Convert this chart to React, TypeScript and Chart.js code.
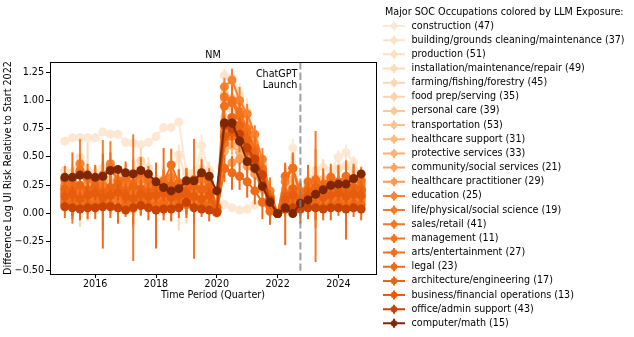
import { useEffect, useRef } from 'react';
import { Chart, registerables } from 'chart.js';

Chart.register(...registerables);

const quarters = [
  2015.0, 2015.25, 2015.5, 2015.75, 2016.0, 2016.25, 2016.5, 2016.75,
  2017.0, 2017.25, 2017.5, 2017.75, 2018.0, 2018.25, 2018.5, 2018.75,
  2019.0, 2019.25, 2019.5, 2019.75, 2020.0, 2020.25, 2020.5, 2020.75,
  2021.0, 2021.25, 2021.5, 2021.75, 2022.0, 2022.25, 2022.5, 2022.75,
  2023.0, 2023.25, 2023.5, 2023.75, 2024.0, 2024.25, 2024.5, 2024.75,
];

const occupations = [
  'construction (47)',
  'building/grounds cleaning/maintenance (37)',
  'production (51)',
  'installation/maintenance/repair (49)',
  'farming/fishing/forestry (45)',
  'food prep/serving (35)',
  'personal care (39)',
  'transportation (53)',
  'healthcare support (31)',
  'protective services (33)',
  'community/social services (21)',
  'healthcare practitioner (29)',
  'education (25)',
  'life/physical/social science (19)',
  'sales/retail (41)',
  'management (11)',
  'arts/entertainment (27)',
  'legal (23)',
  'architecture/engineering (17)',
  'business/financial operations (13)',
  'office/admin support (43)',
  'computer/math (15)',
];

const colors = [
  '#fee8d3', '#fee3c8', '#fde0c2', '#fddcb9', '#fdd8b2', '#fdd3a9',
  '#fdc997', '#fdc28b', '#fdbb80', '#fdb272', '#fda35f', '#fd9a52',
  '#f9812f', '#f77c29', '#f67824', '#f57420', '#f3701b', '#f06b17',
  '#ec6512', '#e65c0c', '#c94302', '#7f2704',
];

// series values (difference in log UI risk), one per quarter
const construction = [0.64, 0.67, 0.67, 0.67, 0.67, 0.72, 0.70, 0.70, 0.63, 0.62, 0.61, 0.63, 0.68, 0.76, 0.76, 0.81, 0.36, 0.30, 0.60, 0.38, 0.10, 0.08, 0.05, 0.03, 0.04, 0.08, 0.10, 0.05, 0.0, 0.15, 0.58, 0.12, 0.30, 0.38, 0.41, 0.38, 0.50, 0.54, 0.45, 0.32];
const building = [0.38, 0.36, 0.50, 0.38, 0.36, 0.40, 0.42, 0.30, 0.35, 0.36, 0.47, 0.40, 0.30, 0.28, 0.35, 0.52, 0.30, 0.36, 0.40, 0.38, 0.05, 1.22, 1.20, 1.05, 0.90, 0.68, 0.45, 0.20, 0.0, 0.18, 0.25, 0.12, 0.20, 0.33, 0.28, 0.30, 0.40, 0.42, 0.38, 0.30];
const production = [0.10, 0.08, 0.12, 0.10, 0.06, 0.12, 0.09, 0.14, 0.10, 0.08, 0.15, 0.12, 0.10, 0.06, 0.12, 0.10, 0.08, 0.12, 0.14, 0.10, 0.02, 0.85, 0.80, 0.72, 0.55, 0.40, 0.30, 0.12, 0.0, 0.06, 0.10, 0.08, 0.12, 0.10, 0.15, 0.12, 0.18, 0.14, 0.20, 0.16];
const installation = [0.15, 0.18, 0.14, 0.20, 0.16, 0.12, 0.18, 0.15, 0.20, 0.14, 0.17, 0.12, 0.16, 0.20, 0.15, 0.18, 0.12, 0.16, 0.20, 0.14, 0.03, 0.95, 0.92, 0.80, 0.66, 0.50, 0.34, 0.15, 0.0, 0.10, 0.14, 0.09, 0.15, 0.18, 0.14, 0.20, 0.16, 0.22, 0.18, 0.20];
const farming = [0.22, 0.26, 0.18, 0.28, 0.20, 0.24, 0.30, 0.16, 0.22, 0.30, 0.46, 0.20, 0.18, 0.24, 0.28, 0.20, 0.16, 0.25, 0.32, 0.20, 0.06, 0.60, 0.64, 0.58, 0.50, 0.42, 0.28, 0.10, 0.0, 0.20, 0.18, 0.10, 0.24, 0.20, 0.30, 0.26, 0.22, 0.28, 0.24, 0.30];
const foodPrep = [0.08, 0.06, 0.10, 0.08, 0.05, 0.09, 0.07, 0.10, 0.06, 0.04, 0.08, 0.07, 0.05, 0.09, 0.06, 0.10, 0.08, 0.06, 0.09, 0.07, 0.0, 1.00, 0.98, 0.88, 0.72, 0.55, 0.36, 0.14, 0.0, 0.05, 0.08, 0.04, 0.06, 0.09, 0.07, 0.10, 0.08, 0.12, 0.09, 0.11];
const personalCare = [0.28, 0.30, 0.34, 0.26, 0.30, 0.32, 0.27, 0.35, 0.29, 0.26, 0.31, 0.28, 0.24, 0.30, 0.26, 0.22, 0.28, 0.30, 0.35, 0.26, 0.04, 1.05, 1.02, 0.95, 0.80, 0.62, 0.42, 0.20, 0.0, 0.22, 0.30, 0.14, 0.25, 0.28, 0.30, 0.32, 0.26, 0.30, 0.28, 0.24];
const transportation = [0.12, 0.14, 0.10, 0.15, 0.12, 0.16, 0.11, 0.13, 0.15, 0.10, 0.14, 0.12, 0.13, 0.11, 0.16, 0.14, 0.12, 0.10, 0.15, 0.13, 0.02, 0.75, 0.78, 0.70, 0.58, 0.46, 0.30, 0.12, 0.0, 0.08, 0.12, 0.10, 0.12, 0.14, 0.11, 0.15, 0.13, 0.16, 0.14, 0.17];
const healthcareSupport = [0.18, 0.20, 0.16, 0.22, 0.19, 0.15, 0.21, 0.18, 0.17, 0.22, 0.19, 0.16, 0.20, 0.18, 0.22, 0.17, 0.19, 0.21, 0.17, 0.20, 0.03, 0.65, 0.70, 0.62, 0.55, 0.44, 0.32, 0.14, 0.0, 0.12, 0.16, 0.10, 0.18, 0.15, 0.20, 0.17, 0.19, 0.16, 0.21, 0.18];
const protective = [0.22, 0.25, 0.20, 0.26, 0.23, 0.28, 0.21, 0.24, 0.26, 0.20, 0.24, 0.22, 0.19, 0.25, 0.23, 0.27, 0.21, 0.24, 0.26, 0.22, 0.05, 0.55, 0.60, 0.54, 0.48, 0.38, 0.25, 0.08, 0.0, 0.14, 0.22, 0.12, 0.20, 0.24, 0.18, 0.22, 0.25, 0.20, 0.23, 0.21];
const community = [0.15, 0.12, 0.18, 0.14, 0.16, 0.20, 0.13, 0.17, 0.14, 0.18, 0.12, 0.16, 0.15, 0.13, 0.19, 0.14, 0.17, 0.12, 0.16, 0.15, 0.02, 0.70, 0.74, 0.66, 0.56, 0.45, 0.30, 0.12, 0.0, 0.10, 0.16, 0.08, 0.14, 0.12, 0.17, 0.15, 0.13, 0.18, 0.15, 0.16];
const healthcarePractitioner = [0.10, 0.12, 0.08, 0.11, 0.09, 0.13, 0.10, 0.12, 0.08, 0.11, 0.14, 0.09, 0.12, 0.10, 0.08, 0.13, 0.11, 0.09, 0.12, 0.10, 0.01, 0.40, 0.45, 0.48, 0.42, 0.35, 0.22, 0.10, 0.0, 0.08, 0.10, 0.06, 0.10, 0.12, 0.09, 0.11, 0.10, 0.13, 0.11, 0.12];
const education = [0.25, 0.28, 0.44, 0.30, 0.27, 0.32, 0.44, 0.29, 0.26, 0.35, 0.30, 0.27, 0.24, 0.29, 0.32, 0.26, 0.28, 0.24, 0.30, 0.27, 0.05, 1.12, 1.18, 1.00, 0.88, 0.70, 0.48, 0.20, 0.0, 0.28, 0.40, 0.20, 0.22, 0.26, 0.24, 0.28, 0.25, 0.27, 0.30, 0.26];
const lifeScience = [0.20, 0.16, 0.24, 0.18, 0.21, 0.25, 0.19, 0.14, 0.22, 0.18, 0.20, 0.24, 0.17, 0.21, 0.19, 0.23, 0.20, 0.16, 0.22, 0.18, 0.03, 0.72, 0.80, 0.74, 0.62, 0.50, 0.36, 0.15, 0.0, 0.18, 0.20, 0.14, 0.18, 0.22, 0.16, 0.20, 0.24, 0.19, 0.22, 0.20];
const sales = [0.12, 0.10, 0.14, 0.11, 0.13, 0.09, 0.15, 0.12, 0.10, 0.14, 0.11, 0.13, 0.12, 0.15, 0.10, 0.14, 0.11, 0.13, 0.12, 0.10, 0.02, 1.03, 1.00, 0.90, 0.75, 0.58, 0.40, 0.16, 0.0, 0.10, 0.14, 0.12, 0.13, 0.15, 0.12, 0.14, 0.16, 0.13, 0.15, 0.14];
const management = [0.18, 0.15, 0.20, 0.17, 0.14, 0.19, 0.22, 0.16, 0.18, 0.20, 0.15, 0.19, 0.17, 0.14, 0.21, 0.18, 0.16, 0.19, 0.22, 0.17, 0.03, 0.62, 0.68, 0.66, 0.56, 0.45, 0.30, 0.13, 0.0, 0.12, 0.18, 0.10, 0.17, 0.20, 0.15, 0.18, 0.21, 0.17, 0.19, 0.20];
const arts = [0.30, 0.26, 0.38, 0.32, 0.28, 0.34, 0.40, 0.29, 0.31, 0.27, 0.36, 0.30, 0.26, 0.28, 0.43, 0.27, 0.25, 0.30, 0.34, 0.28, 0.06, 0.95, 0.98, 0.86, 0.72, 0.56, 0.38, 0.06, 0.0, 0.33, 0.40, 0.15, 0.28, 0.30, 0.26, 0.32, 0.28, 0.33, 0.30, 0.29];
const legal = [0.08, 0.10, 0.06, 0.09, 0.07, 0.11, 0.08, 0.05, 0.09, 0.06, 0.10, 0.08, 0.07, 0.09, 0.05, 0.10, 0.08, 0.06, 0.09, 0.07, 0.01, 0.40, 0.36, 0.33, 0.28, 0.20, 0.10, 0.02, 0.0, 0.06, 0.08, 0.05, 0.07, 0.09, 0.06, 0.08, 0.10, 0.07, 0.09, 0.08];
const architecture = [0.22, 0.20, 0.25, 0.21, 0.24, 0.19, 0.23, 0.26, 0.20, 0.24, 0.22, 0.19, 0.23, 0.21, 0.25, 0.22, 0.20, 0.24, 0.21, 0.23, 0.04, 0.80, 0.85, 0.78, 0.65, 0.52, 0.35, 0.14, 0.0, 0.16, 0.22, 0.12, 0.20, 0.23, 0.21, 0.24, 0.22, 0.20, 0.23, 0.22];
const business = [0.15, 0.17, 0.13, 0.16, 0.18, 0.14, 0.16, 0.19, 0.15, 0.13, 0.17, 0.15, 0.16, 0.18, 0.14, 0.16, 0.17, 0.15, 0.13, 0.16, 0.02, 0.68, 0.72, 0.66, 0.56, 0.44, 0.28, 0.10, 0.0, 0.12, 0.16, 0.09, 0.15, 0.17, 0.14, 0.16, 0.18, 0.15, 0.17, 0.16];
const office = [0.06, 0.05, 0.04, 0.05, 0.05, 0.06, 0.06, 0.05, 0.03, 0.05, 0.07, 0.05, 0.03, 0.04, 0.04, 0.05, 0.10, 0.05, 0.04, 0.03, 0.01, 0.78, 0.75, 0.70, 0.58, 0.48, 0.34, 0.12, 0.0, 0.04, 0.05, 0.04, 0.05, 0.05, 0.04, 0.05, 0.05, 0.04, 0.05, 0.04];
const computer = [0.32, 0.32, 0.34, 0.34, 0.32, 0.33, 0.38, 0.39, 0.36, 0.35, 0.38, 0.35, 0.28, 0.23, 0.20, 0.22, 0.29, 0.29, 0.36, 0.33, 0.20, 0.80, 0.80, 0.64, 0.46, 0.40, 0.24, 0.10, 0.0, 0.05, 0.0, 0.09, 0.12, 0.17, 0.21, 0.25, 0.26, 0.26, 0.31, 0.35];

// error bar half-widths, one per quarter
const constructionErr = [0.03, 0.03, 0.03, 0.03, 0.04, 0.03, 0.03, 0.03, 0.03, 0.03, 0.03, 0.04, 0.03, 0.03, 0.04, 0.03, 0.05, 0.08, 0.10, 0.06, 0.05, 0.04, 0.03, 0.03, 0.04, 0.05, 0.04, 0.03, 0.0, 0.05, 0.08, 0.06, 0.06, 0.07, 0.06, 0.05, 0.06, 0.07, 0.06, 0.06];
const buildingErr = [0.06, 0.08, 0.10, 0.06, 0.07, 0.12, 0.08, 0.10, 0.09, 0.08, 0.12, 0.10, 0.08, 0.10, 0.12, 0.09, 0.10, 0.12, 0.10, 0.08, 0.05, 0.06, 0.08, 0.10, 0.12, 0.10, 0.08, 0.06, 0.0, 0.10, 0.12, 0.10, 0.12, 0.10, 0.12, 0.10, 0.10, 0.12, 0.12, 0.10];
const productionErr = [0.05, 0.06, 0.05, 0.05, 0.06, 0.05, 0.05, 0.06, 0.05, 0.05, 0.06, 0.05, 0.05, 0.06, 0.05, 0.05, 0.06, 0.05, 0.05, 0.05, 0.03, 0.05, 0.06, 0.05, 0.05, 0.06, 0.05, 0.05, 0.0, 0.05, 0.06, 0.05, 0.05, 0.06, 0.05, 0.05, 0.06, 0.05, 0.05, 0.06];
const installationErr = [0.06, 0.07, 0.06, 0.06, 0.07, 0.06, 0.06, 0.07, 0.06, 0.06, 0.07, 0.06, 0.06, 0.07, 0.06, 0.06, 0.07, 0.06, 0.06, 0.07, 0.03, 0.06, 0.07, 0.06, 0.06, 0.07, 0.06, 0.06, 0.0, 0.06, 0.07, 0.06, 0.06, 0.07, 0.06, 0.06, 0.07, 0.06, 0.06, 0.07];
const farmingErr = [0.15, 0.18, 0.30, 0.35, 0.20, 0.15, 0.25, 0.18, 0.22, 0.20, 0.12, 0.25, 0.20, 0.18, 0.30, 0.35, 0.25, 0.20, 0.18, 0.22, 0.06, 0.10, 0.12, 0.10, 0.10, 0.12, 0.10, 0.08, 0.0, 0.15, 0.12, 0.10, 0.15, 0.12, 0.18, 0.15, 0.14, 0.16, 0.15, 0.12];
const foodPrepErr = [0.04, 0.05, 0.04, 0.04, 0.05, 0.04, 0.04, 0.05, 0.04, 0.04, 0.05, 0.04, 0.04, 0.05, 0.04, 0.04, 0.05, 0.04, 0.04, 0.05, 0.03, 0.05, 0.06, 0.05, 0.05, 0.06, 0.05, 0.04, 0.0, 0.04, 0.05, 0.04, 0.04, 0.05, 0.04, 0.04, 0.05, 0.04, 0.04, 0.05];
const personalCareErr = [0.07, 0.08, 0.06, 0.07, 0.08, 0.07, 0.06, 0.08, 0.07, 0.07, 0.08, 0.06, 0.07, 0.08, 0.07, 0.06, 0.08, 0.07, 0.07, 0.08, 0.04, 0.07, 0.08, 0.07, 0.08, 0.07, 0.06, 0.07, 0.0, 0.08, 0.07, 0.06, 0.08, 0.07, 0.07, 0.08, 0.07, 0.06, 0.08, 0.07];
const transportationErr = [0.05, 0.05, 0.06, 0.05, 0.05, 0.06, 0.05, 0.05, 0.06, 0.05, 0.05, 0.06, 0.05, 0.05, 0.06, 0.05, 0.05, 0.06, 0.05, 0.05, 0.03, 0.05, 0.06, 0.05, 0.05, 0.06, 0.05, 0.05, 0.0, 0.05, 0.06, 0.05, 0.05, 0.06, 0.05, 0.05, 0.06, 0.05, 0.05, 0.06];
const healthcareSupportErr = [0.06, 0.07, 0.06, 0.08, 0.06, 0.07, 0.06, 0.08, 0.06, 0.07, 0.06, 0.08, 0.06, 0.07, 0.06, 0.08, 0.06, 0.07, 0.06, 0.08, 0.04, 0.06, 0.07, 0.06, 0.08, 0.06, 0.07, 0.06, 0.0, 0.06, 0.07, 0.06, 0.08, 0.06, 0.07, 0.06, 0.08, 0.06, 0.07, 0.06];
const protectiveErr = [0.07, 0.08, 0.07, 0.09, 0.07, 0.08, 0.07, 0.09, 0.07, 0.08, 0.07, 0.09, 0.07, 0.08, 0.07, 0.09, 0.07, 0.08, 0.07, 0.09, 0.04, 0.07, 0.08, 0.07, 0.09, 0.07, 0.08, 0.07, 0.0, 0.07, 0.08, 0.07, 0.09, 0.07, 0.08, 0.07, 0.09, 0.07, 0.08, 0.07];
const communityErr = [0.08, 0.10, 0.08, 0.09, 0.12, 0.08, 0.10, 0.09, 0.08, 0.10, 0.08, 0.09, 0.12, 0.08, 0.10, 0.09, 0.08, 0.10, 0.08, 0.09, 0.04, 0.08, 0.10, 0.08, 0.09, 0.12, 0.08, 0.10, 0.0, 0.08, 0.10, 0.08, 0.09, 0.12, 0.08, 0.10, 0.09, 0.08, 0.10, 0.08];
const healthcarePractitionerErr = [0.05, 0.06, 0.05, 0.06, 0.05, 0.06, 0.05, 0.06, 0.05, 0.06, 0.05, 0.06, 0.05, 0.06, 0.05, 0.06, 0.05, 0.06, 0.05, 0.06, 0.03, 0.05, 0.06, 0.05, 0.06, 0.05, 0.06, 0.05, 0.0, 0.05, 0.06, 0.05, 0.06, 0.05, 0.06, 0.05, 0.06, 0.05, 0.06, 0.05];
const educationErr = [0.08, 0.10, 0.22, 0.09, 0.08, 0.12, 0.20, 0.09, 0.08, 0.10, 0.12, 0.09, 0.08, 0.10, 0.12, 0.09, 0.08, 0.10, 0.12, 0.09, 0.04, 0.08, 0.10, 0.12, 0.09, 0.08, 0.10, 0.12, 0.0, 0.15, 0.12, 0.09, 0.08, 0.10, 0.12, 0.09, 0.08, 0.10, 0.12, 0.09];
const lifeScienceErr = [0.15, 0.25, 0.22, 0.18, 0.20, 0.40, 0.15, 0.12, 0.18, 0.30, 0.20, 0.15, 0.22, 0.18, 0.25, 0.16, 0.20, 0.30, 0.18, 0.15, 0.04, 0.10, 0.12, 0.10, 0.12, 0.15, 0.10, 0.08, 0.0, 0.18, 0.15, 0.12, 0.20, 0.35, 0.15, 0.14, 0.18, 0.28, 0.16, 0.12];
const salesErr = [0.10, 0.12, 0.14, 0.10, 0.12, 0.10, 0.15, 0.12, 0.10, 0.56, 0.12, 0.10, 0.14, 0.12, 0.10, 0.12, 0.12, 0.53, 0.12, 0.10, 0.04, 0.10, 0.12, 0.10, 0.12, 0.14, 0.10, 0.12, 0.0, 0.12, 0.10, 0.12, 0.14, 0.58, 0.12, 0.10, 0.12, 0.14, 0.10, 0.12];
const managementErr = [0.08, 0.10, 0.12, 0.08, 0.10, 0.08, 0.12, 0.10, 0.08, 0.10, 0.12, 0.08, 0.10, 0.08, 0.12, 0.10, 0.08, 0.10, 0.12, 0.08, 0.04, 0.08, 0.10, 0.12, 0.08, 0.10, 0.08, 0.12, 0.0, 0.10, 0.08, 0.12, 0.10, 0.08, 0.10, 0.12, 0.08, 0.10, 0.08, 0.12];
const artsErr = [0.12, 0.28, 0.14, 0.12, 0.15, 0.12, 0.14, 0.12, 0.15, 0.12, 0.14, 0.12, 0.15, 0.30, 0.14, 0.12, 0.15, 0.12, 0.14, 0.12, 0.06, 0.12, 0.14, 0.12, 0.15, 0.12, 0.14, 0.12, 0.0, 0.12, 0.14, 0.12, 0.15, 0.12, 0.14, 0.12, 0.15, 0.12, 0.14, 0.12];
const legalErr = [0.12, 0.15, 0.12, 0.14, 0.12, 0.42, 0.12, 0.14, 0.12, 0.15, 0.12, 0.14, 0.38, 0.15, 0.12, 0.14, 0.12, 0.15, 0.12, 0.14, 0.04, 0.12, 0.15, 0.12, 0.14, 0.12, 0.15, 0.12, 0.0, 0.34, 0.12, 0.14, 0.12, 0.15, 0.12, 0.14, 0.12, 0.30, 0.12, 0.14];
const architectureErr = [0.07, 0.08, 0.07, 0.08, 0.07, 0.08, 0.07, 0.08, 0.07, 0.08, 0.07, 0.08, 0.07, 0.08, 0.07, 0.08, 0.07, 0.08, 0.07, 0.08, 0.04, 0.07, 0.08, 0.07, 0.08, 0.07, 0.08, 0.07, 0.0, 0.07, 0.08, 0.07, 0.08, 0.07, 0.08, 0.07, 0.08, 0.07, 0.08, 0.07];
const businessErr = [0.06, 0.07, 0.06, 0.07, 0.06, 0.07, 0.06, 0.07, 0.06, 0.07, 0.06, 0.07, 0.06, 0.07, 0.06, 0.07, 0.06, 0.07, 0.06, 0.07, 0.03, 0.06, 0.07, 0.06, 0.07, 0.06, 0.07, 0.06, 0.0, 0.06, 0.07, 0.06, 0.07, 0.06, 0.07, 0.06, 0.07, 0.06, 0.07, 0.06];
const officeErr = [0.03, 0.03, 0.03, 0.03, 0.03, 0.03, 0.03, 0.03, 0.03, 0.03, 0.03, 0.03, 0.03, 0.03, 0.03, 0.03, 0.04, 0.03, 0.03, 0.03, 0.02, 0.04, 0.04, 0.04, 0.04, 0.04, 0.04, 0.03, 0.0, 0.03, 0.03, 0.03, 0.03, 0.03, 0.03, 0.03, 0.03, 0.03, 0.03, 0.03];
const computerErr = [0.03, 0.03, 0.03, 0.03, 0.03, 0.03, 0.03, 0.03, 0.03, 0.03, 0.03, 0.03, 0.03, 0.03, 0.03, 0.03, 0.03, 0.03, 0.03, 0.03, 0.03, 0.04, 0.04, 0.04, 0.04, 0.04, 0.04, 0.03, 0.0, 0.03, 0.03, 0.03, 0.03, 0.03, 0.03, 0.03, 0.03, 0.03, 0.03, 0.03];

const seriesValues = [
  construction, building, production, installation, farming, foodPrep,
  personalCare, transportation, healthcareSupport, protective, community,
  healthcarePractitioner, education, lifeScience, sales, management, arts,
  legal, architecture, business, office, computer,
];
const seriesErrors = [
  constructionErr, buildingErr, productionErr, installationErr, farmingErr, foodPrepErr,
  personalCareErr, transportationErr, healthcareSupportErr, protectiveErr, communityErr,
  healthcarePractitionerErr, educationErr, lifeScienceErr, salesErr, managementErr, artsErr,
  legalErr, architectureErr, businessErr, officeErr, computerErr,
];

const yTicks = [-0.5, -0.25, 0, 0.25, 0.5, 0.75, 1.0, 1.25];
const xTicks = [2016, 2018, 2020, 2022, 2024];
const chatgptLaunch = 2022.75;
const panelTitle = 'NM';
const legendTitle = 'Major SOC Occupations colored by LLM Exposure:';

const FONT_FAMILY = 'DejaVu Sans';
const FS = 9.6;

const errorBarPlugin = {
  id: 'errorBars',
  beforeDatasetDraw(chart: any, args: any) {
    const i = args.index;
    const vals = seriesValues[i];
    const errs = seriesErrors[i];
    const yScale = chart.scales.y;
    const ctx = chart.ctx;
    const a = chart.chartArea;
    ctx.save();
    ctx.beginPath();
    ctx.rect(a.left, a.top, a.right - a.left, a.bottom - a.top);
    ctx.clip();
    ctx.strokeStyle = colors[i];
    ctx.lineWidth = 2;
    args.meta.data.forEach((pt: any, j: number) => {
      const e = errs[j];
      if (!e) return;
      ctx.beginPath();
      ctx.moveTo(pt.x, yScale.getPixelForValue(vals[j] - e));
      ctx.lineTo(pt.x, yScale.getPixelForValue(vals[j] + e));
      ctx.stroke();
    });
    ctx.restore();
  },
};

const decorPlugin = {
  id: 'decor',
  afterDatasetsDraw(chart: any) {
    const ctx = chart.ctx;
    const a = chart.chartArea;
    const xs = chart.scales.x;
    const lx = xs.getPixelForValue(chatgptLaunch);
    ctx.save();
    ctx.strokeStyle = 'rgba(128,128,128,0.75)';
    ctx.lineWidth = 2;
    ctx.setLineDash([7.4, 3.2]);
    ctx.beginPath();
    ctx.moveTo(lx, a.top);
    ctx.lineTo(lx, a.bottom);
    ctx.stroke();
    ctx.setLineDash([]);
    ctx.fillStyle = '#000';
    ctx.font = `${FS}px "${FONT_FAMILY}"`;
    ctx.textAlign = 'right';
    ctx.textBaseline = 'middle';
    ctx.fillText('ChatGPT', lx - 3, a.top + 12);
    ctx.fillText('Launch', lx - 3, a.top + 23);
    ctx.restore();
  },
  afterDraw(chart: any) {
    const ctx = chart.ctx;
    const a = chart.chartArea;
    ctx.save();
    ctx.strokeStyle = '#000';
    ctx.lineWidth = 1;
    ctx.strokeRect(Math.round(a.left) + 0.5, Math.round(a.top) + 0.5, Math.round(a.right - a.left), Math.round(a.bottom - a.top));
    ctx.fillStyle = '#000';
    ctx.font = `${FS}px "${FONT_FAMILY}"`;
    ctx.textAlign = 'center';
    ctx.textBaseline = 'middle';
    ctx.fillText(panelTitle, (a.left + a.right) / 2, a.top - 6.5);
    ctx.textAlign = 'left';
    ctx.fillText(legendTitle, 385, 12.5);
    const y0 = 26;
    const step = 14.16;
    occupations.forEach((name, i) => {
      const y = y0 + i * step;
      ctx.strokeStyle = colors[i];
      ctx.fillStyle = colors[i];
      ctx.lineWidth = 2;
      ctx.beginPath();
      ctx.moveTo(383, y);
      ctx.lineTo(405, y);
      ctx.moveTo(394, y - 4.5);
      ctx.lineTo(394, y + 4.5);
      ctx.stroke();
      ctx.beginPath();
      ctx.arc(394, y, 3.2, 0, Math.PI * 2);
      ctx.fill();
      ctx.fillStyle = '#000';
      ctx.fillText(name, 411.5, y);
    });
    ctx.restore();
  },
};

export default function App() {
  const ref = useRef<HTMLCanvasElement | null>(null);

  useEffect(() => {
    if (!ref.current) return;
    Chart.defaults.font.family = FONT_FAMILY;
    Chart.defaults.font.size = FS;
    Chart.defaults.color = '#000';
    const chart = new Chart(ref.current, {
      type: 'line',
      data: {
        datasets: occupations.map((name, i) => ({
          label: name,
          data: quarters.map((q, j) => ({ x: q, y: seriesValues[i][j] })),
          borderColor: colors[i],
          backgroundColor: colors[i],
          pointBackgroundColor: colors[i],
          pointBorderColor: colors[i],
          borderWidth: 2,
          pointRadius: 4.5,
          pointBorderWidth: 0,
          tension: 0,
          order: occupations.length - i,
        })),
      },
      options: {
        responsive: false,
        animation: false,
        events: [],
        layout: { padding: { top: 62, right: 258, left: 0, bottom: 0 } },
        plugins: {
          legend: { display: false },
          tooltip: { enabled: false },
          title: { display: false },
        },
        scales: {
          x: {
            type: 'linear',
            min: 2014.5125,
            max: 2025.2375,
            afterFit: (s: any) => { s.height = 63; },
            afterBuildTicks: (s: any) => { s.ticks = xTicks.map((v) => ({ value: v })); },
            ticks: {
              padding: 1,
              maxRotation: 0,
              color: '#000',
              font: { size: FS },
              callback: (v: any) => String(v),
            },
            grid: { display: true, drawOnChartArea: false, drawTicks: true, tickLength: 4, color: '#000' },
            border: { display: false },
            title: {
              display: true,
              text: 'Time Period (Quarter)',
              color: '#000',
              font: { size: FS },
              padding: { top: 0, bottom: 36 },
            },
          },
          y: {
            type: 'linear',
            min: -0.535,
            max: 1.34,
            afterFit: (s: any) => { s.width = 50; },
            afterBuildTicks: (s: any) => { s.ticks = yTicks.map((v) => ({ value: v })); },
            ticks: {
              padding: 2,
              color: '#000',
              font: { size: FS },
              callback: (v: any) => (v < 0 ? '\u2212' : '') + Math.abs(v).toFixed(2),
            },
            grid: { display: true, drawOnChartArea: false, drawTicks: true, tickLength: 4, color: '#000' },
            border: { display: false },
            title: {
              display: true,
              text: 'Difference Log UI Risk Relative to Start 2022',
              color: '#000',
              font: { size: FS },
              padding: { top: 3, bottom: 0 },
            },
          },
        },
      },
      plugins: [errorBarPlugin, decorPlugin],
    } as any);
    return () => chart.destroy();
  }, []);

  return (
    <div style={{ position: 'absolute', left: 0, top: 0, width: 634, height: 337, background: '#fff' }}>
      <canvas ref={ref} width={634} height={337} style={{ display: 'block' }} />
    </div>
  );
}
